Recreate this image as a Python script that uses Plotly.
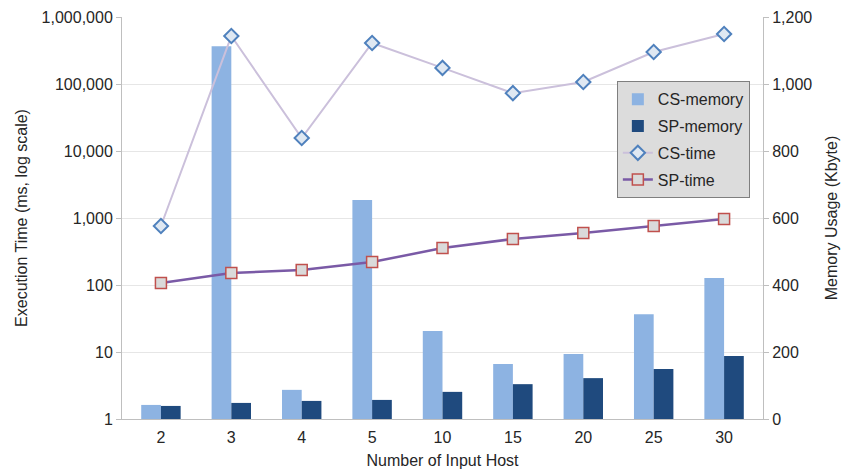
import plotly.graph_objects as go

hosts = ["2", "3", "4", "5", "10", "15", "20", "25", "30"]
cs_memory = [42, 1113, 87, 654, 263, 164, 194, 313, 421]
sp_memory = [39, 48, 54, 57, 81, 104, 122, 149, 188]
cs_time = [760, 520000, 15600, 410000, 174000, 73000, 107000, 300000, 557000]
sp_time = [107, 151, 168, 220, 356, 486, 597, 760, 966]

log_tickvals = [1, 10, 100, 1000, 10000, 100000, 1000000]
log_ticktext = ["1", "10", "100", "1,000", "10,000", "100,000", "1,000,000"]
mem_tickvals = [0, 200, 400, 600, 800, 1000, 1200]

FONT = "Liberation Sans, Arial, sans-serif"
TXT = "#262626"

fig = go.Figure()
fig.add_trace(go.Bar(x=hosts, y=cs_memory, name="CS-memory", legendgroup="a",
                     marker=dict(color="#8db3e2", line=dict(width=0)), yaxis="y"))
fig.add_trace(go.Bar(x=hosts, y=sp_memory, name="SP-memory", legendgroup="b",
                     marker=dict(color="#1f4a7e", line=dict(width=0)), yaxis="y"))
fig.add_trace(go.Scatter(x=hosts, y=cs_time, name="CS-time", mode="lines+markers",
                         legendgroup="c",
                         line=dict(color="#cbc0db", width=2),
                         marker=dict(symbol="diamond", size=11, color="#dfe8f2",
                                     line=dict(color="#4f81bd", width=2)),
                         yaxis="y2"))
fig.add_trace(go.Scatter(x=hosts, y=sp_time, name="SP-time", mode="lines+markers",
                         legendgroup="d",
                         line=dict(color="#7a5aa6", width=2.5),
                         marker=dict(symbol="square", size=11, color="#dadada",
                                     line=dict(color="#c0504d", width=1.5)),
                         yaxis="y2"))

fig.update_layout(
    width=848, height=472,
    margin=dict(l=122, r=85, t=17, b=53, autoexpand=False),
    paper_bgcolor="white", plot_bgcolor="white",
    font=dict(family=FONT, size=16, color=TXT),
    barmode="group", bargap=0.44, bargroupgap=0,
    showlegend=True,
    legend=dict(x=0.772, y=0.84, xanchor="left", yanchor="top",
                bgcolor="#dcdcdc", bordercolor="#7f7f7f", borderwidth=1,
                font=dict(size=16, color=TXT), traceorder="grouped",
                tracegroupgap=3, itemwidth=30),
    xaxis=dict(type="category", showgrid=False, showline=True, linecolor="#bfbfbf",
               linewidth=1, ticks="", tickfont=dict(size=16), automargin=False,
               ticklabelstandoff=4,
               title=dict(text="Number of Input Host", font=dict(size=16), standoff=9)),
    yaxis=dict(side="right", range=[0, 1200], tickvals=mem_tickvals, tickformat=",",
               showgrid=True, gridcolor="#e6e6e6", showline=True, linecolor="#bfbfbf",
               ticks="outside", ticklen=5, tickcolor="#bfbfbf", tickfont=dict(size=16),
               zeroline=False, automargin=False,
               title=dict(text="Memory Usage (Kbyte)", font=dict(size=16), standoff=14)),
    yaxis2=dict(type="log", range=[0, 6], overlaying="y", side="left",
                tickvals=log_tickvals, ticktext=log_ticktext,
                showgrid=False, showline=True, linecolor="#bfbfbf",
                ticks="outside", ticklen=5, tickcolor="#bfbfbf", tickfont=dict(size=16),
                zeroline=False, automargin=False,
                title=dict(text="Execution Time (ms, log scale)", font=dict(size=16), standoff=10)),
)

fig.write_html("out.html", config={"displayModeBar": False},
               post_script="document.body.style.margin='0px';")
